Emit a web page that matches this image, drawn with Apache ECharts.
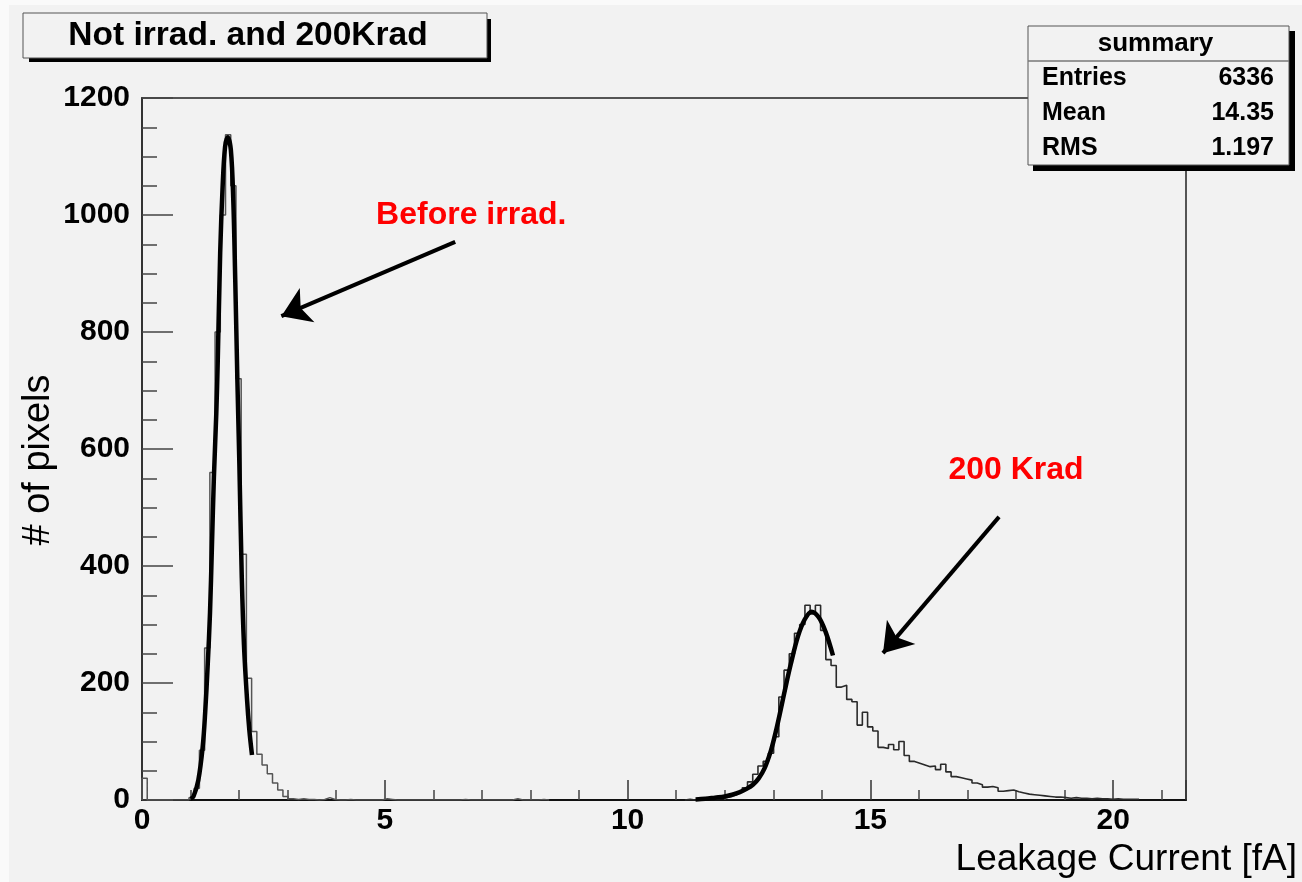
<!DOCTYPE html>
<html>
<head>
<meta charset="utf-8">
<script src="https://cdn.jsdelivr.net/npm/echarts@6/dist/echarts.min.js"></script>
<style>
  html, body { margin: 0; padding: 0; background: #f2f2f2; }
  #chart { width: 1302px; height: 882px; }
</style>
</head>
<body>
<div id="chart"></div>
<script>
// Histogram binning: 200 bins over 0 - 21.5 fA
const histRange = [0, 21.5];
const nBins = 200;

// Not irradiated sample: counts per bin, starting at bin 0
const beforeFirstBin = 0;
const beforeCounts = [
  37, 0, 0, 0, 0, 0, 0, 0, 0, 4,
  20, 85, 260, 560, 800, 1000, 1137, 1050, 720, 420,
  208, 117, 78, 60, 45, 29, 17, 6, 2, 1,
  2, 1, 1, 0, 1, 4, 1, 0, 0, 1,
  0, 0, 0, 0, 0, 0, 2, 1, 0, 0,
  0, 0, 0, 0, 0, 0, 0, 0, 0, 0,
  0, 1, 0, 0, 0, 0, 0, 0, 0, 0,
  0, 2, 0, 0, 0, 0, 1, 0
];

// 200 Krad sample: counts per bin, starting at bin 104
const krad200FirstBin = 104;
const krad200Counts = [
  1, 0, 1, 1, 2, 2, 3, 4, 6, 9,
  14, 21, 31, 44, 58, 66, 80, 108, 176, 222,
  250, 285, 300, 333, 318, 333, 290, 240, 230, 193,
  196, 172, 168, 128, 150, 125, 118, 90, 88, 95,
  86, 100, 76, 66, 63, 60, 57, 58, 52, 61,
  48, 40, 38, 36, 34, 29, 26, 22, 23, 21,
  15, 16, 17, 14, 12, 10, 9, 8, 7, 6,
  5, 5, 4, 3, 4, 3, 3, 2, 3, 2,
  2, 1, 2, 1, 1, 1, 1
];

// Gaussian fit curves, sampled as [current fA, pixels]
const fitBefore = [
  [1.00, 2], [1.06, 6], [1.16, 34], [1.25, 91], [1.30, 148], [1.355, 234],
  [1.40, 319], [1.44, 433], [1.48, 550], [1.53, 661], [1.56, 750], [1.61, 935],
  [1.66, 1048], [1.71, 1116], [1.765, 1133], [1.83, 1111], [1.88, 1025],
  [1.92, 890], [1.965, 715], [2.005, 575], [2.055, 380], [2.10, 265],
  [2.16, 176], [2.21, 120], [2.265, 77]
];
const fit200 = [
  [11.40, 1], [11.60, 2], [11.80, 4], [12.00, 6], [12.15, 9], [12.30, 13],
  [12.45, 19], [12.58, 26], [12.70, 37], [12.82, 54], [12.95, 84], [13.05, 116],
  [13.15, 153], [13.24, 188], [13.36, 232], [13.51, 280], [13.65, 309],
  [13.79, 322], [13.94, 312], [14.08, 287], [14.23, 247]
];

// Axis ticks
const xTicks = [0, 5, 10, 15, 20];
const yTicks = [0, 200, 400, 600, 800, 1000, 1200];

// Text
const plotTitle = 'Not irrad. and 200Krad';
const statsHeader = 'summary';
const statsLabels = ['Entries', 'Mean', 'RMS'];
const statsValues = ['6336', '14.35', '1.197'];
const noteBefore = 'Before irrad.';
const note200 = '200 Krad';
const xTitle = 'Leakage Current [fA]';
const yTitle = '# of pixels';

const binWidth = (histRange[1] - histRange[0]) / nBins;
function histPoints(firstBin, counts) {
  const edge = i => histRange[0] + i * binWidth;
  const pts = [[edge(firstBin), 0]];
  counts.forEach((c, k) => pts.push([edge(firstBin + k), c]));
  pts.push([edge(firstBin + counts.length), 0]);
  return pts;
}

const FONT = '"Liberation Sans", Arial, Helvetica, sans-serif';
const BG = '#f2f2f2';

const chart = echarts.init(document.getElementById('chart'), null, { renderer: 'canvas' });

const statsTop = 26, statsLeft = 1028, statsRight = 1289, statsBottom = 165;
const statsRowY = [78, 113, 148];

const graphics = [
  // light margin strips along the canvas edges
  { type: 'rect', z: -10, silent: true, shape: { x: 0, y: 0, width: 9, height: 882 }, style: { fill: '#fafafa' } },
  { type: 'rect', z: -10, silent: true, shape: { x: 0, y: 0, width: 1302, height: 5 }, style: { fill: '#fafafa' } },
  // title box with drop shadow
  { type: 'rect', z: 10, silent: true, shape: { x: 29, y: 19, width: 462, height: 43 }, style: { fill: '#000' } },
  { type: 'rect', z: 11, silent: true, shape: { x: 23, y: 13, width: 464, height: 45 }, style: { fill: BG, stroke: '#555', lineWidth: 1 } },
  { type: 'text', z: 12, silent: true, x: 248, y: 36,
    style: { text: plotTitle, font: 'bold 33.5px ' + FONT, fill: '#000', align: 'center', verticalAlign: 'middle' } },
  // statistics box with drop shadow
  { type: 'rect', z: 10, silent: true, shape: { x: statsLeft + 5, y: statsTop + 5, width: statsRight - statsLeft + 1, height: statsBottom - statsTop + 1 }, style: { fill: '#000' } },
  { type: 'rect', z: 11, silent: true, shape: { x: statsLeft, y: statsTop, width: statsRight - statsLeft, height: statsBottom - statsTop }, style: { fill: BG, stroke: '#555', lineWidth: 1 } },
  { type: 'line', z: 12, silent: true, shape: { x1: statsLeft, y1: 61, x2: statsRight, y2: 61 }, style: { stroke: '#777', lineWidth: 1.5 } },
  { type: 'text', z: 12, silent: true, x: (statsLeft + statsRight) / 2 - 3, y: 44,
    style: { text: statsHeader, font: 'bold 26px ' + FONT, fill: '#000', align: 'center', verticalAlign: 'middle' } }
];
statsLabels.forEach((lab, i) => {
  graphics.push({ type: 'text', z: 12, silent: true, x: 1042, y: statsRowY[i],
    style: { text: lab, font: 'bold 25px ' + FONT, fill: '#000', align: 'left', verticalAlign: 'middle' } });
  graphics.push({ type: 'text', z: 12, silent: true, x: 1274, y: statsRowY[i],
    style: { text: statsValues[i], font: 'bold 25px ' + FONT, fill: '#000', align: 'right', verticalAlign: 'middle' } });
});

const noteLabel = {
  show: true, position: 'inside', color: '#ff0000',
  fontFamily: FONT, fontWeight: 'bold', fontSize: 32
};
const arrowLine = {
  silent: true,
  symbol: ['none', 'arrow'],
  symbolSize: 28,
  label: { show: false },
  lineStyle: { color: '#000', width: 4, type: 'solid' },
  itemStyle: { color: '#000' },
  emphasis: { disabled: true }
};

const option = {
  animation: false,
  backgroundColor: BG,
  grid: {
    left: 142, top: 98, width: 1044, height: 702,
    show: true, borderColor: '#222', borderWidth: 1.5, backgroundColor: 'transparent'
  },
  xAxis: {
    type: 'value',
    min: histRange[0], max: histRange[1], interval: 5,
    name: xTitle,
    nameLocation: 'end', nameGap: 111,
    nameMoveOverlap: false,
    nameTextStyle: { fontFamily: FONT, fontSize: 37, color: '#000', align: 'right', verticalAlign: 'top', padding: [41, 0, 0, 0] },
    axisLine: { show: true, onZero: false, lineStyle: { color: '#111', width: 2 } },
    axisTick: { show: true, inside: true, length: 20, lineStyle: { color: '#333', width: 1.5 } },
    minorTick: { show: true, splitNumber: 5, length: 10, lineStyle: { color: '#444', width: 1.5 } },
    splitLine: { show: false },
    axisLabel: {
      margin: 6, fontFamily: FONT, fontWeight: 'bold', fontSize: 30, color: '#000',
      showMaxLabel: false,
      formatter: v => (xTicks.indexOf(v) >= 0 ? String(v) : '')
    }
  },
  yAxis: {
    type: 'value',
    min: yTicks[0], max: yTicks[yTicks.length - 1], interval: 200,
    name: yTitle,
    nameLocation: 'middle', nameGap: 84,
    nameMoveOverlap: false,
    nameTextStyle: { fontFamily: FONT, fontSize: 38, color: '#000', padding: [0, 22, 0, 0] },
    axisLine: { show: true, onZero: false, lineStyle: { color: '#333', width: 2 } },
    axisTick: { show: true, inside: true, length: 31, lineStyle: { color: '#444', width: 1.5 } },
    minorTick: { show: true, splitNumber: 4, length: 15, lineStyle: { color: '#444', width: 1.5 } },
    splitLine: { show: false },
    axisLabel: {
      margin: 12, fontFamily: FONT, fontWeight: 'bold', fontSize: 30, color: '#000',
      formatter: v => (yTicks.indexOf(v) >= 0 ? String(v) : '')
    }
  },
  series: [
    {
      name: 'Not irradiated',
      type: 'line', step: 'end', symbol: 'none', z: 2,
      data: histPoints(beforeFirstBin, beforeCounts),
      lineStyle: { color: '#555', width: 1.5 },
      emphasis: { disabled: true }
    },
    {
      name: '200 Krad',
      type: 'line', step: 'end', symbol: 'none', z: 2,
      data: histPoints(krad200FirstBin, krad200Counts),
      lineStyle: { color: '#2a2a2a', width: 1.6 },
      emphasis: { disabled: true }
    },
    {
      name: 'Fit not irradiated',
      type: 'line', smooth: 0.35, symbol: 'none', z: 3,
      data: fitBefore,
      lineStyle: { color: '#000', width: 4.5 },
      emphasis: { disabled: true },
      markLine: Object.assign({}, arrowLine, {
        data: [[{ coord: [6.45, 954] }, { coord: [2.87, 827] }]]
      }),
      markPoint: {
        silent: true, symbol: 'circle', symbolSize: 1,
        itemStyle: { color: 'transparent' },
        label: Object.assign({}, noteLabel, { formatter: noteBefore }),
        data: [{ coord: [6.78, 1000] }]
      }
    },
    {
      name: 'Fit 200 Krad',
      type: 'line', smooth: 0.35, symbol: 'none', z: 3,
      data: fit200,
      lineStyle: { color: '#000', width: 4.5 },
      emphasis: { disabled: true },
      markLine: Object.assign({}, arrowLine, {
        data: [[{ coord: [17.65, 484] }, { coord: [15.26, 251] }]]
      }),
      markPoint: {
        silent: true, symbol: 'circle', symbolSize: 1,
        itemStyle: { color: 'transparent' },
        label: Object.assign({}, noteLabel, { formatter: note200 }),
        data: [{ coord: [18.0, 564] }]
      }
    }
  ],
  graphic: graphics
};

chart.setOption(option);
</script>
</body>
</html>
